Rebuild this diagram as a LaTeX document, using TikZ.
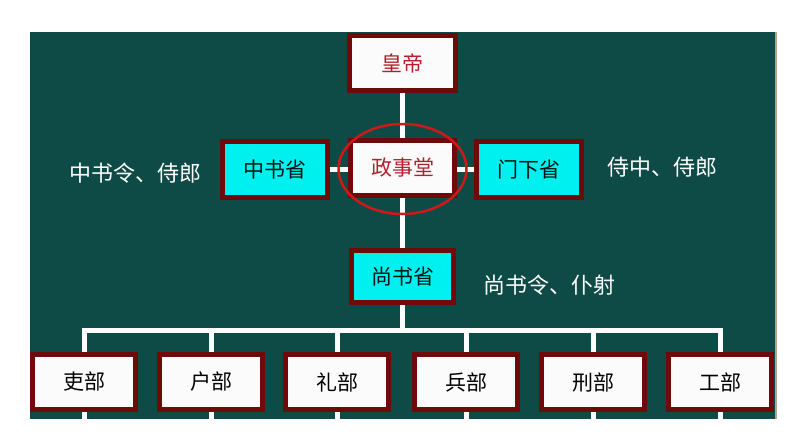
\documentclass[tikz,border=0pt]{standalone}
\usepackage{fontspec}
\newfontfamily\cjk{Noto Sans CJK SC}
\usetikzlibrary{backgrounds,shapes.geometric}
\definecolor{board}{HTML}{0F4B46}
\definecolor{frame}{HTML}{6E0A0A}
\definecolor{boxcyan}{HTML}{00F0F0}
\definecolor{redtext}{HTML}{B0202E}
\definecolor{ringred}{HTML}{D01818}
\definecolor{edge}{HTML}{B0A482}
\tikzset{
  box/.style={draw=frame, line width=5pt, inner sep=0pt, minimum width=103pt, minimum height=55pt,
    font=\cjk\fontsize{21}{25}\selectfont, text=black},
  whitebox/.style={box, fill=white!97!gray},
  cyanbox/.style={box, fill=boxcyan, text=black!85!teal},
  link/.style={draw=white, line width=5pt},
  note/.style={text=white, font=\cjk\fontsize{22}{26}\selectfont, inner sep=0pt},
}
\begin{document}
\begin{tikzpicture}[x=1pt,y=-1pt]
\useasboundingbox (0,0) rectangle (794,447);
% nodes
\node[whitebox, minimum width=106pt, minimum height=55pt, text=redtext] (hd) at (402.5,63) {皇帝};
\node[cyanbox, minimum width=105pt, minimum height=56pt] (zs) at (275,169.5) {中书省};
\node[whitebox, minimum width=104pt, minimum height=55pt, text=redtext] (zst) at (402.5,168) {政事堂};
\node[cyanbox, minimum width=105pt, minimum height=56pt] (mx) at (529,169.5) {门下省};
\node[cyanbox, minimum width=102pt, minimum height=52pt] (ss) at (402.5,276.5) {尚书省};
\foreach \n/\x/\t in {b1/84/吏部, b2/211/户部, b3/337/礼部, b4/466/兵部, b5/593/刑部, b6/720/工部}
  \node[whitebox, minimum width=103pt, minimum height=55pt] (\n) at (\x,382) {\t};
\node[note] (l1) at (135,173) {中书令、侍郎};
\node[note] (l2) at (662,167) {侍中、侍郎};
\node[note] (l3) at (549,285) {尚书令、仆射};
\coordinate (busy) at (0,330);
\coordinate (boty) at (0,419);
% background and connectors
\begin{pgfonlayer}{background}
  \fill[white] (0,0) rectangle (794,447);
  \fill[board] (30,32) rectangle (775,419);
  \draw[edge, line width=1.5pt] (776,32) -- (776,419);
  \draw[link] (hd.south) -- (zst.north);
  \draw[link] (zs.east) -- (zs.east -| zst.west);
  \draw[link] (mx.west) -- (mx.west -| zst.east);
  \draw[link] (zst.south) -- (ss.north);
  \draw[link] (ss.south) -- (ss.south |- busy);
  \draw[link, line cap=rect] (b1.north) -- (b1.north |- busy) -- (b6.north |- busy) -- (b6.north);
  \foreach \n in {b2,b3,b4,b5}
    \draw[link] (\n.north) -- (\n.north |- busy);
  \foreach \n in {b1,b2,b3,b4,b5,b6}
    \draw[link] (\n.south) -- (\n.south |- boty);
\end{pgfonlayer}
\node[draw=ringred, line width=2.5pt, ellipse, minimum width=128pt, minimum height=90pt, inner sep=0pt] (ring) at (402.5,169) {};
\end{tikzpicture}
\end{document}
